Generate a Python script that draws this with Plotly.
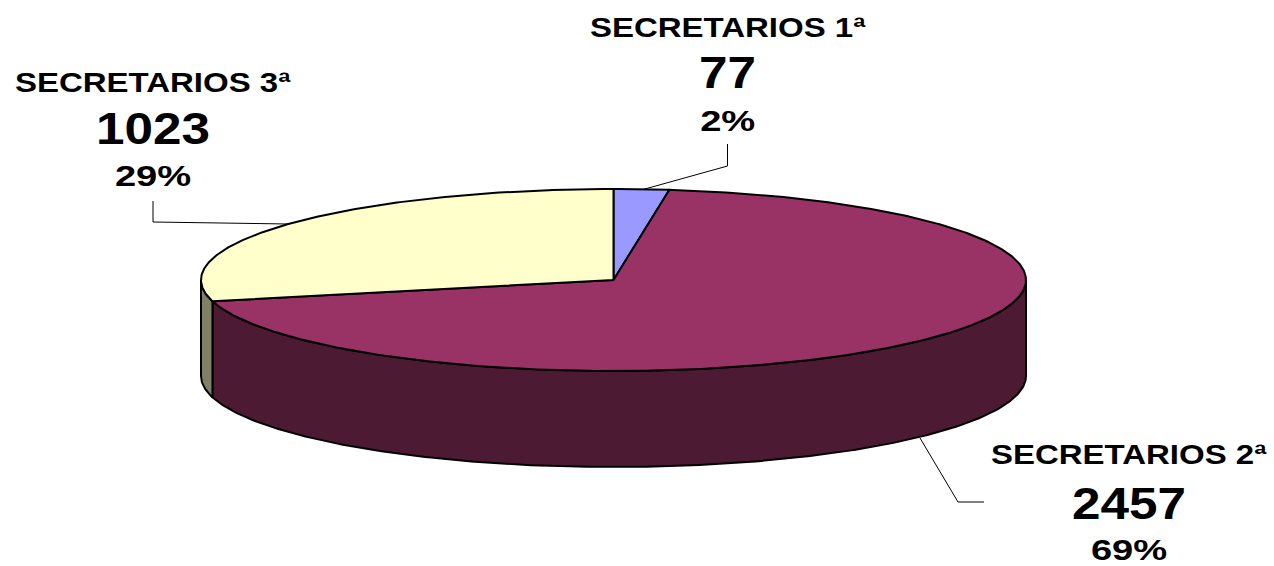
import numpy as np
import plotly.graph_objects as go

categories = ["SECRETARIOS 1ª", "SECRETARIOS 2ª", "SECRETARIOS 3ª"]
values = [77, 2457, 1023]
percent_labels = ["2%", "69%", "29%"]

top_colors = ["#9999FF", "#993366", "#FFFFCC"]
side_colors = ["#4D4D80", "#4C1A33", "#808066"]

W, H = 1274, 566
CX, CY, RX, RY, DEPTH = 613.5, 280, 412.5, 91, 96
FONT = "Liberation Sans, Arial, sans-serif"
label_x = [727.5, 1129, 153]
label_y = [(28, 72, 120), (455, 503, 549), (83, 128, 175)]
line_sizes = [27, 44, 30]
line_stretch = [1.222, 1.165, 1.27]   # the reference lettering is horizontally widened
leaders = [
    ([727.5, 727.5, 643], [144, 166, 189.5]),
    ([984, 958, 920], [502, 502, 438]),
    ([153, 153, 288], [201, 222, 224]),
]


def rim(a0, a1, dy=0.0):
    t = np.radians(np.linspace(a0, a1, max(int(abs(a1 - a0) * 2), 2)))
    return CX + RX * np.sin(t), CY + dy - RY * np.cos(t)


fig = go.Figure()


def poly(x, y, fill, width=2):
    fig.add_trace(go.Scatter(
        x=list(x), y=list(y), mode="lines", fill="toself", fillcolor=fill,
        line=dict(color="black", width=width), hoverinfo="skip", showlegend=False,
    ))


total = sum(values)
edges = np.concatenate([[0], np.cumsum(values) / total * 360])

# outer wall: only the front half of the rim (90..270 deg clockwise from top) shows
for i, v in enumerate(values):
    a0, a1 = max(edges[i], 90), min(edges[i + 1], 270)
    if a1 > a0:
        xt, yt = rim(a0, a1)
        xb, yb = rim(a1, a0, DEPTH)
        poly(np.r_[xt, xb, xt[0]], np.r_[yt, yb, yt[0]], side_colors[i])

# top face
for i, v in enumerate(values):
    xt, yt = rim(edges[i], edges[i + 1])
    poly(np.r_[CX, xt, CX], np.r_[CY, yt, CY], top_colors[i])

# leader lines
for lx, ly in leaders:
    fig.add_trace(go.Scatter(x=lx, y=ly, mode="lines", line=dict(color="black", width=1),
                             hoverinfo="skip", showlegend=False))

for i, name in enumerate(categories):
    texts = [name, str(values[i]), percent_labels[i]]
    for txt, size, y in zip(texts, line_sizes, label_y[i]):
        fig.add_annotation(x=label_x[i], y=y, text=txt, showarrow=False,
                           xanchor="center", yanchor="middle",
                           font=dict(family=FONT, size=size, color="black", weight=700))

fig.update_layout(
    width=W, height=H, margin=dict(l=0, r=0, t=0, b=0),
    paper_bgcolor="white", plot_bgcolor="white", showlegend=False,
    xaxis=dict(range=[0, W], visible=False, fixedrange=True),
    yaxis=dict(range=[H, 0], visible=False, fixedrange=True),
)

post = """
document.body.style.margin = '0';
document.body.style.overflow = 'hidden';
var stretch = %s;
document.querySelectorAll('text.annotation-text').forEach(function (t, i) {
  t.style.transformBox = 'fill-box';
  t.style.transformOrigin = 'center';
  t.style.transform = 'scaleX(' + stretch[i %% 3] + ')';
});
""" % (line_stretch,)
fig.write_html("out.html", config={"displayModeBar": False}, post_script=post)
